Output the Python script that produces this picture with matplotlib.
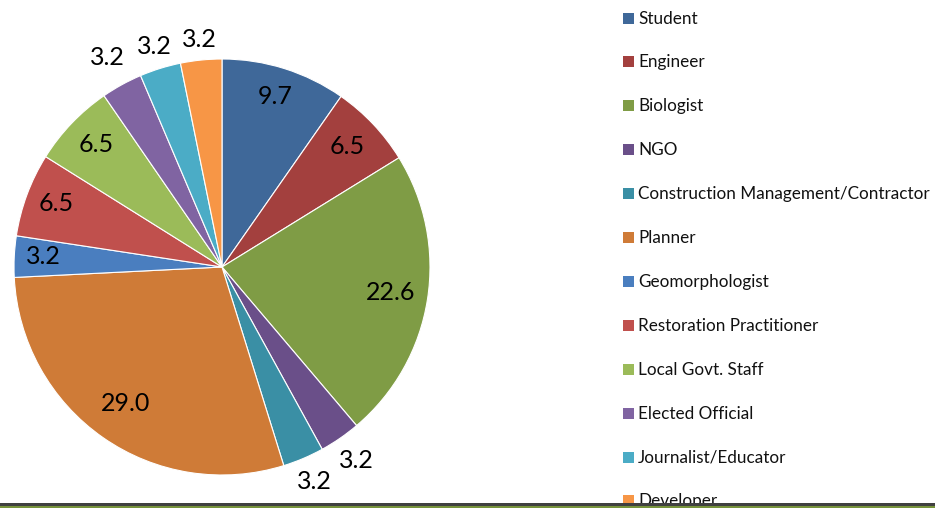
import matplotlib
matplotlib.use("Agg")
import matplotlib.pyplot as plt
from matplotlib.patches import Rectangle
import numpy as np

categories = ["Student", "Engineer", "Biologist", "NGO",
              "Construction Management/Contractor", "Planner",
              "Geomorphologist", "Restoration Practitioner",
              "Local Govt. Staff", "Elected Official",
              "Journalist/Educator", "Developer"]
values = [9.7, 6.5, 22.6, 3.2, 3.2, 29.0, 3.2, 6.5, 6.5, 3.2, 3.2, 3.2]
colors = ["#3F6899", "#A3403E", "#7F9C45", "#6A4F89", "#3A8FA5", "#CF7B37",
          "#4A7EBF", "#C0504D", "#9BBB59", "#8064A2", "#4BACC6", "#F79646"]
# per-label radial distance (fraction of radius), mimicking Excel "best fit"
label_dist = [0.85, 0.83, 0.82, 1.14, 1.13, 0.81, 0.86, 0.85, 0.84, 1.14, 1.10, 1.09]

W, H, DPI = 935, 508, 100
fig = plt.figure(figsize=(W / DPI, H / DPI), dpi=DPI)
plt.rcParams['font.family'] = ['Lato', 'DejaVu Sans']

cx, cy, r = 222, 267, 208
ax = fig.add_axes([(cx - r) / W, (H - cy - r) / H, 2 * r / W, 2 * r / H])
wedges, _ = ax.pie(values, colors=colors, startangle=90, counterclock=False,
                   radius=1.0, wedgeprops=dict(edgecolor="white", linewidth=0.8))
ax.set_xlim(-1, 1)
ax.set_ylim(-1, 1)
ax.set_aspect("equal")
ax.axis("off")

for w, v, d in zip(wedges, values, label_dist):
    ang = np.deg2rad((w.theta1 + w.theta2) / 2)
    ax.text(d * np.cos(ang), d * np.sin(ang) + 0.008, f"{v:.1f}", ha="center",
            va="center", fontsize=18, color="black", clip_on=False)

# legend (manual, to match spacing)
y0, dy = 18, 43.9
for i, (lab, col) in enumerate(zip(categories, colors)):
    yc = y0 + i * dy
    fig.patches.append(Rectangle((623 / W, (H - yc - 5.5) / H), 11 / W, 11 / H,
                                 transform=fig.transFigure, facecolor=col,
                                 edgecolor="none", zorder=1))
    fig.text(638 / W, (H - yc - 0.5) / H, lab, ha="left", va="center",
             fontsize=12.3, color="#111111", zorder=1)

# bottom rule
fig.patches.append(Rectangle((0, 0), 1, 2.2 / H, transform=fig.transFigure,
                             facecolor="#77933C", edgecolor="none", zorder=5))
fig.patches.append(Rectangle((0, 2.2 / H), 1, 2.8 / H, transform=fig.transFigure,
                             facecolor="#404040", edgecolor="none", zorder=5))

fig.savefig("out.png", dpi=DPI)
